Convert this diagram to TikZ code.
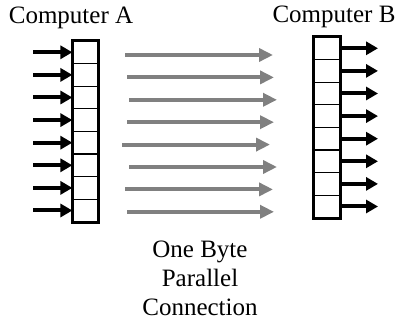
\documentclass[tikz,border=0pt]{standalone}
\usepackage{fontspec}
\setmainfont{Liberation Serif}
\usetikzlibrary{arrows.meta}

\tikzset{
  cellA/.style={draw, line width=0.6pt, minimum width=12.5pt, minimum height=11.3pt, inner sep=0pt},
  cellB/.style={draw, line width=0.6pt, minimum width=13pt, minimum height=11.3pt, inner sep=0pt},
  frame/.style={line width=1.5pt},
  bitin/.style={line width=2pt, -{Triangle[length=6pt,width=6.5pt]}},
  wire/.style={line width=2pt, color=gray, -{Triangle[length=7pt,width=6.5pt]}},
  label/.style={font=\fontsize{12.5}{14.5}\selectfont}
}

\begin{document}
\begin{tikzpicture}[x=0.5pt, y=-0.5pt]
    \useasboundingbox (0,0) rectangle (401,324);
    % labels
    \node[label, anchor=base] (compA) at (71,24) {Computer A};
    \node[label, anchor=base] (compB) at (334,23) {Computer B};
    \node[label, anchor=base, align=center] (byte) at (200,316) {One Byte\\Parallel\\Connection};
    % registers
    \foreach \i in {1,...,8} {
        \node[cellA] (a\i) at (85.5,{41+22.6*(\i-0.5)}) {};
        \node[cellB] (b\i) at (327,{37+22.6*(\i-0.5)}) {};
        \coordinate (in\i) at (33,{41+22.6*(\i-0.5)});
        \coordinate (out\i) at (378,{37+22.6*(\i-0.5)});
        \draw[bitin] (in\i) -- (a\i.west);
        \draw[bitin] (b\i.east) -- (out\i);
    }
    \draw[frame] (a1.north west) rectangle (a8.south east);
    \draw[frame] (b1.north west) rectangle (b8.south east);
    % the eight wires
    \foreach \i/\s/\e in {1/125/273, 2/127/274, 3/129/277, 4/127/274,
                          5/122/270, 6/129/277, 7/125/273, 8/127/274} {
        \coordinate (ws\i) at (\s,{55+22.4*(\i-1)});
        \coordinate (we\i) at (\e,{55+22.4*(\i-1)});
        \draw[wire] (ws\i) -- (we\i);
    }
\end{tikzpicture}
\end{document}
